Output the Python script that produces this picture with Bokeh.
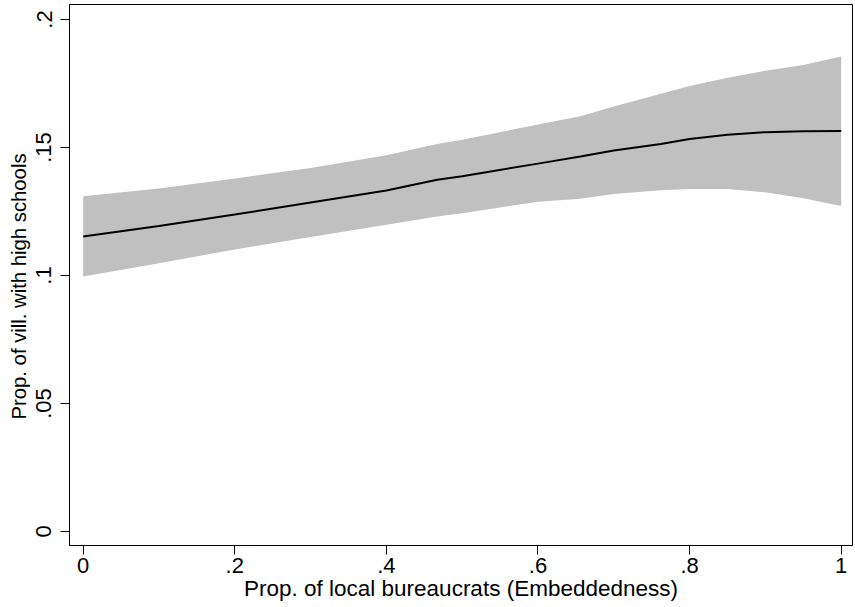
from bokeh.plotting import figure
from bokeh.models import FixedTicker, Range1d, Title
from bokeh.embed import file_html
from bokeh.resources import INLINE

# Data
x_vals = [0.0, 0.1, 0.2, 0.3, 0.4, 0.467, 0.5, 0.6, 0.656, 0.7, 0.762, 0.8, 0.85, 0.9, 0.95, 1.0]
fit = [0.1152, 0.1193, 0.1238, 0.1285, 0.1332, 0.1374, 0.1388, 0.1437, 0.1465, 0.1488, 0.1514, 0.1533, 0.1550, 0.1560, 0.1563, 0.1564]
upper = [0.1310, 0.1340, 0.1379, 0.1420, 0.1470, 0.1514, 0.1530, 0.1590, 0.1622, 0.1660, 0.1710, 0.1740, 0.1772, 0.1800, 0.1822, 0.1855]
lower = [0.0996, 0.1048, 0.1102, 0.1150, 0.1198, 0.1230, 0.1243, 0.1288, 0.1300, 0.1318, 0.1333, 0.1338, 0.1338, 0.1325, 0.1302, 0.1271]

x_ticks = [0, 0.2, 0.4, 0.6, 0.8, 1]
x_tick_labels = ["0", ".2", ".4", ".6", ".8", "1"]
y_ticks = [0, 0.05, 0.1, 0.15, 0.2]
y_tick_labels = ["0", ".05", ".1", ".15", ".2"]

x_title = "Prop. of local bureaucrats (Embeddedness)"
y_title = "Prop. of vill. with high schools"

FONT = "Liberation Sans"

p = figure(width=853, height=605, output_backend="svg", toolbar_location=None,
           x_range=Range1d(-0.01807, 1.01491), y_range=Range1d(-0.00547, 0.20586),
           min_border_left=69, min_border_right=1, min_border_top=4, min_border_bottom=60)

p.varea(x=x_vals, y1=lower, y2=upper, fill_color="#c0c0c0", fill_alpha=1.0)
p.line(x=x_vals, y=fit, line_color="black", line_width=2)

p.xgrid.visible = False
p.ygrid.visible = False
p.background_fill_color = "white"
p.border_fill_color = "white"
p.outline_line_color = "black"
p.outline_line_width = 1

p.xaxis.ticker = FixedTicker(ticks=x_ticks)
p.xaxis.major_label_overrides = dict(zip(x_ticks, x_tick_labels))
p.yaxis.ticker = FixedTicker(ticks=y_ticks)
p.yaxis.major_label_overrides = dict(zip(y_ticks, y_tick_labels))

for ax in (p.xaxis[0], p.yaxis[0]):
    ax.major_tick_out = 9
    ax.major_tick_in = 0
    ax.minor_tick_out = 0
    ax.minor_tick_in = 0
    ax.axis_line_color = "black"
    ax.axis_line_width = 1
    ax.major_tick_line_color = "black"
    ax.major_tick_line_width = 1
    ax.major_label_text_font = FONT
    ax.major_label_text_font_size = "22px"
    ax.major_label_text_color = "black"
    ax.axis_label_text_font = FONT
    ax.axis_label_text_font_style = "normal"
    ax.axis_label_text_color = "black"

p.xaxis.axis_label = x_title
p.xaxis.axis_label_text_font_size = "22.5px"
p.yaxis.major_label_orientation = "vertical"
p.xaxis.major_label_standoff = 3
p.yaxis.major_label_standoff = 9
p.xaxis.axis_label_standoff = 0

# y-axis title as a side title, starting above the frame bottom
ytitle = Title(text=y_title, align="left", text_font=FONT, text_font_size="20.3px",
               text_font_style="normal", text_color="black", standoff=8, offset=126)
p.add_layout(ytitle, "left")

open("out.html", "w").write(file_html(p, INLINE))
